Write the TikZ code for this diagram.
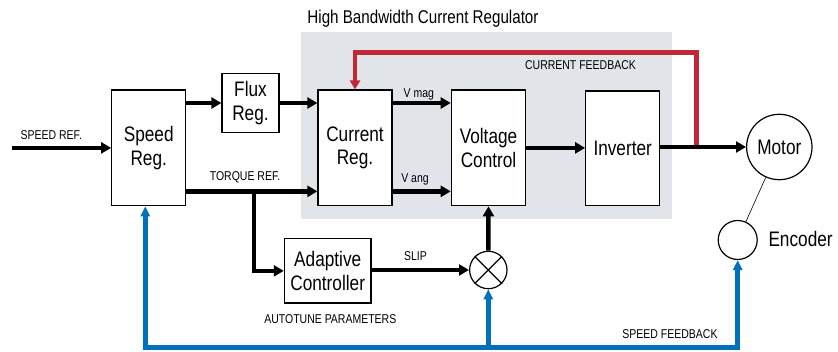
\documentclass[tikz,border=0pt]{standalone}
\usepackage{fontspec}
\setmainfont{Liberation Sans}[FakeStretch=0.82]
\usepackage{tikz}
\usetikzlibrary{arrows.meta, positioning, calc}
\definecolor{fbred}{RGB}{192,39,55}
\definecolor{fbblue}{RGB}{0,112,186}
\definecolor{regbg}{RGB}{225,228,233}

\begin{document}
\begin{tikzpicture}[x=1pt, y=-1pt,
  block/.style={draw, line width=1.2pt, fill=white, inner sep=0pt, align=center, font=\fontsize{21}{23.4}\selectfont},
  roundblock/.style={draw, circle, line width=1.2pt, fill=white, inner sep=0pt, font=\fontsize{21}{23.4}\selectfont},
  lbl/.style={anchor=base, inner sep=0pt, font=\fontsize{12.8}{15}\selectfont},
  sig/.style={line width=4.5pt, -{Triangle[length=10pt, width=11pt]}},
  redfb/.style={fbred, line width=4.8pt, -{Triangle[length=9pt, width=10pt]}},
  bluefb/.style={fbblue, line width=4.8pt}]
  \useasboundingbox (0,0) rectangle (838,352);

  % Regulator area
  \node[fill=regbg, minimum width=370.7pt, minimum height=186.4pt, inner sep=0pt] (hbcr) at (486.35,125.5) {};
  \node[anchor=base, inner sep=0pt, font=\fontsize{18.5}{20}\selectfont] (title) at (423,23.3) {High Bandwidth Current Regulator};

  % Blocks
  \node[block, minimum width=74pt, minimum height=115.7pt] (speed) at (148.7,147.9) {Speed\\Reg.};
  \node[block, minimum width=57pt, minimum height=58.3pt] (flux) at (250.5,103) {Flux\\Reg.};
  \node[block, minimum width=74pt, minimum height=115.7pt] (current) at (355,147.9) {Current\\Reg.};
  \node[block, minimum width=74.4pt, minimum height=115.7pt] (voltage) at (488.5,147.9) {Voltage\\Control};
  \node[block, minimum width=74pt, minimum height=114.7pt] (inverter) at (622.7,148.4) {Inverter};
  \node[block, minimum width=86.7pt, minimum height=64.3pt] (adaptive) at (327.7,270.9) {Adaptive\\Controller};
  \node[roundblock, minimum size=65.4pt] (motor) at (779.3,147) {Motor};
  \node[roundblock, minimum size=39pt] (encoder) at (737.7,240) {};
  \node[roundblock, minimum size=37.4pt] (sum) at (488.3,270) {};
  \draw[line width=1.2pt] (sum.north east) -- (sum.south west) (sum.north west) -- (sum.south east);

  % Labels
  \node[lbl] (speedref) at (51.3,140) {SPEED REF.};
  \node[lbl] (torqueref) at (245,181) {TORQUE REF.};
  \node[lbl] (vmag) at (418.8,97.3) {V mag};
  \node[lbl] (vang) at (415,182.7) {V ang};
  \node[lbl] (slip) at (415.5,260.7) {SLIP};
  \node[lbl] (autotune) at (330.3,323.3) {AUTOTUNE PARAMETERS};
  \node[lbl] (curfb) at (580.5,70) {CURRENT FEEDBACK};
  \node[lbl] (speedfb) at (670,338.3) {SPEED FEEDBACK};
  \node[anchor=base west, inner sep=0pt, font=\fontsize{21}{23.4}\selectfont] (enclbl) at (768.3,246.7) {Encoder};

  % Coordinates
  \coordinate (in) at (12,147.9);
  \coordinate (br) at (254,188.7);
  \coordinate (tap) at (696.7,147);
  \coordinate (redcorner) at (696.7,52.5);
  \coordinate (fbr) at (737.7,347.7);
  \coordinate (fbl) at (145.3,347.7);

  % Feedback paths
  \draw[redfb] (tap) -- (redcorner) -| (current.north);
  \draw[bluefb, {Triangle[length=10pt, width=9pt]}-{Triangle[length=10pt, width=9pt]}] (encoder.south) -- (fbr) -- (fbl) -- (speed.south -| fbl);
  \draw[bluefb, -{Triangle[length=10pt, width=9pt]}] (sum.south |- fbl) -- (sum.south);
  \draw[line width=0.6pt] (motor) -- (encoder);

  % Signals
  \draw[sig] (in) -- (speed.west);
  \draw[sig] (speed.east |- flux.west) -- (flux.west);
  \draw[sig] (flux.east) -- (current.west |- flux.east);
  \draw[sig] ([yshift=15pt]speed.south east) -- ([yshift=15pt]current.south west);
  \draw[sig] (br) |- (adaptive.west);
  \draw[sig] (current.east |- flux.east) -- (voltage.west |- flux.east);
  \draw[sig] ([yshift=15pt]current.south east) -- ([yshift=15pt]voltage.south west);
  \draw[sig] (voltage.east) -- (inverter.west |- voltage.east);
  \draw[sig] (inverter.east |- motor.west) -- (motor.west);
  \draw[sig] (adaptive.east |- sum.west) -- (sum.west);
  \draw[sig] (sum.north) -- (voltage.south);
\end{tikzpicture}
\end{document}
